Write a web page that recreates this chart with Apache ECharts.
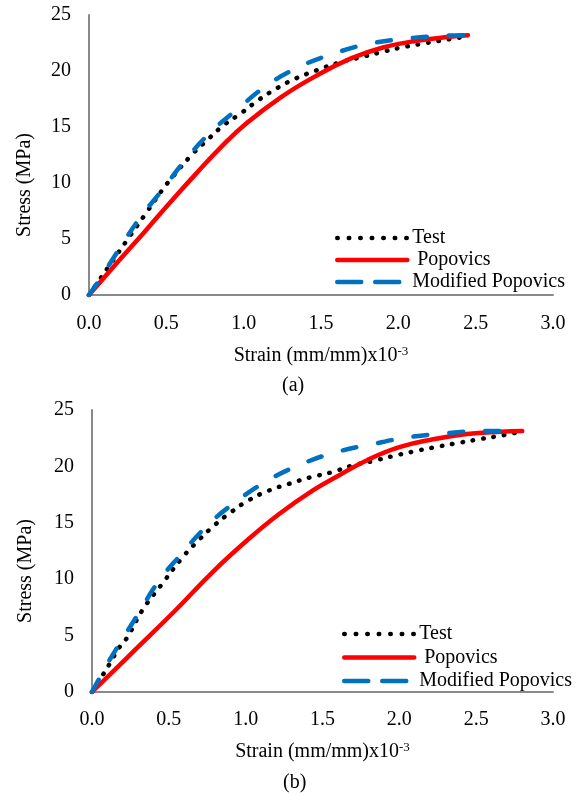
<!DOCTYPE html>
<html>
<head>
<meta charset="utf-8">
<script src="https://cdn.jsdelivr.net/npm/echarts@6/dist/echarts.min.js"></script>
<style>
html,body{margin:0;padding:0;background:#fff;}
#main{width:579px;height:793px;}
</style>
</head>
<body>
<div id="main"></div>
<script>
// ---- Data (strain in mm/mm x10^-3, stress in MPa) ----
const seriesNames = ['Test', 'Popovics', 'Modified Popovics'];
const panelLabels = ['(a)', '(b)'];
const xTicks = [0.0, 0.5, 1.0, 1.5, 2.0, 2.5, 3.0];
const yTicks = [0, 5, 10, 15, 20, 25];

// Panel (a)
const testA = [[0,0],[0.06,1.2],[0.12,2.4],[0.24,4.78],[0.36,7.14],[0.48,9.5],[0.52,10.2],[0.66,12.45],[0.77,13.9],[0.87,15.15],[0.99,16.3],[1.10,17.45],[1.22,18.5],[1.34,19.35],[1.47,20.05],[1.61,20.72],[1.75,21.2],[1.88,21.65],[2.02,22.1],[2.16,22.45],[2.30,22.77],[2.45,23.1]];
const popA = [[0,0],[0.18,2.85],[0.36,5.65],[0.52,8.2],[0.70,10.95],[0.86,13.3],[1.02,15.35],[1.24,17.65],[1.46,19.5],[1.69,21.1],[1.90,22.1],[2.12,22.7],[2.33,23.05],[2.45,23.2]];
const modA = [[0,0],[0.06,1.2],[0.2,4.2],[0.32,6.7],[0.48,9.5],[0.62,12.0],[0.78,14.45],[0.96,16.6],[1.15,18.7],[1.35,20.3],[1.58,21.55],[1.82,22.45],[2.06,22.9],[2.30,23.15],[2.45,23.2]];

// Panel (b)
const testB = [[0,0],[0.07,1.5],[0.11,2.39],[0.18,4.0],[0.23,4.85],[0.33,7.3],[0.46,9.65],[0.59,11.95],[0.69,13.4],[0.79,14.7],[0.90,15.9],[1.02,17.0],[1.15,17.85],[1.28,18.45],[1.42,19.03],[1.56,19.48],[1.69,20.06],[1.83,20.48],[1.97,20.95],[2.11,21.37],[2.25,21.75],[2.39,22.1],[2.53,22.43],[2.67,22.75],[2.78,23.05]];
const popB = [[0,0],[0.27,3.6],[0.54,7.2],[0.79,10.7],[1.01,13.45],[1.22,15.8],[1.44,17.9],[1.60,19.15],[1.79,20.55],[2.00,21.7],[2.22,22.4],[2.44,22.87],[2.66,23.08],[2.80,23.14]];
const modB = [[0,0],[0.05,1.25],[0.1,2.5],[0.18,4.3],[0.30,6.9],[0.43,9.75],[0.58,12.2],[0.75,14.75],[0.93,16.8],[1.13,18.64],[1.35,20.12],[1.58,21.23],[1.82,21.96],[2.06,22.58],[2.30,22.93],[2.54,23.14],[2.79,23.15]];

// ---- Styles ----
const FONT = "'Liberation Serif','Times New Roman',serif";
const AXIS_COLOR = '#8a8a8a';
const styleTest = {color:'#000000', width:4.5, type:[0.5, 10], cap:'round'};
const stylePop = {color:'#FF0000', width:4.5, type:'solid', cap:'round'};
const styleMod = {color:'#0070C0', width:4.5, type:[14, 22], cap:'round'};

function xAxisCfg(gridIndex, nameGap, margin) {
  return {
    gridIndex, type:'value', min:0, max:3, interval:0.5,
    axisLine:{show:true, lineStyle:{color:AXIS_COLOR, width:2}},
    axisTick:{show:false}, splitLine:{show:false},
    axisLabel:{fontFamily:FONT, fontSize:20, color:'#000', margin:margin,
      formatter:v => v.toFixed(1)},
    name:'Strain (mm/mm)x10{sup|-3}', nameLocation:'middle', nameGap:nameGap,
    nameTextStyle:{fontFamily:FONT, fontSize:20, color:'#000',
      rich:{sup:{fontFamily:FONT, fontSize:13, color:'#000', verticalAlign:'top', padding:[0,0,8,0]}}}
  };
}
function yAxisCfg(gridIndex, nameGap, shift) {
  return {
    gridIndex, type:'value', min:0, max:25, interval:5,
    axisLine:{show:true, lineStyle:{color:AXIS_COLOR, width:2}},
    axisTick:{show:false}, splitLine:{show:false},
    axisLabel:{fontFamily:FONT, fontSize:20, color:'#000', margin:18},
    name:'Stress (MPa)', nameLocation:'middle', nameGap:nameGap,
    nameTextStyle:{fontFamily:FONT, fontSize:20, color:'#000', padding:[0, shift, 0, 0]}
  };
}
function lineSeries(name, data, idx, ls) {
  return {
    name, type:'line', data, xAxisIndex:idx, yAxisIndex:idx,
    symbol:'none', smooth:0.45,
    lineStyle:ls, itemStyle:{color:ls.color}, animation:false
  };
}
function legendCfg(left, top, gap) {
  return {
    orient:'vertical', left, top, padding:0, itemWidth:70, itemHeight:14, itemGap:gap,
    selectedMode:false,
    itemStyle:{opacity:0},
    lineStyle:{width:4.5, cap:'round'},
    data:[
      {name:seriesNames[0], lineStyle:{width:4.5, type:[0.5, 11], cap:'round'}},
      {name:seriesNames[1], lineStyle:{width:4.5, type:'solid', cap:'round'}},
      {name:seriesNames[2], lineStyle:{width:4.5, type:[24, 14], cap:'round'}}
    ],
    formatter: n => (n === 'Popovics' ? ' ' + n : n),
    textStyle:{fontFamily:FONT, fontSize:20, color:'#000', lineHeight:22}
  };
}

const chart = echarts.init(document.getElementById('main'), null, {renderer:'canvas'});
chart.setOption({
  backgroundColor:'#ffffff',
  animation:false,
  grid:[
    {left:89, right:26, top:15, height:280},
    {left:92, right:26, top:410, height:282}
  ],
  xAxis:[xAxisCfg(0, 50, 19), xAxisCfg(1, 49, 18)],
  yAxis:[yAxisCfg(0, 54, 60), yAxisCfg(1, 56, 40)],
  legend:[legendCfg(335, 227, 0), legendCfg(342, 623, 1.5)],
  series:[
    lineSeries(seriesNames[0], testA, 0, styleTest),
    lineSeries(seriesNames[1], popA, 0, stylePop),
    lineSeries(seriesNames[2], modA, 0, styleMod),
    lineSeries(seriesNames[0], testB, 1, styleTest),
    lineSeries(seriesNames[1], popB, 1, stylePop),
    lineSeries(seriesNames[2], modB, 1, styleMod)
  ],
  graphic:[
    {type:'text', left:282, top:376, style:{text:panelLabels[0], font:"20px " + FONT, fill:'#000'}},
    {type:'text', left:283, top:773, style:{text:panelLabels[1], font:"20px " + FONT, fill:'#000'}}
  ]
});
</script>
</body>
</html>
